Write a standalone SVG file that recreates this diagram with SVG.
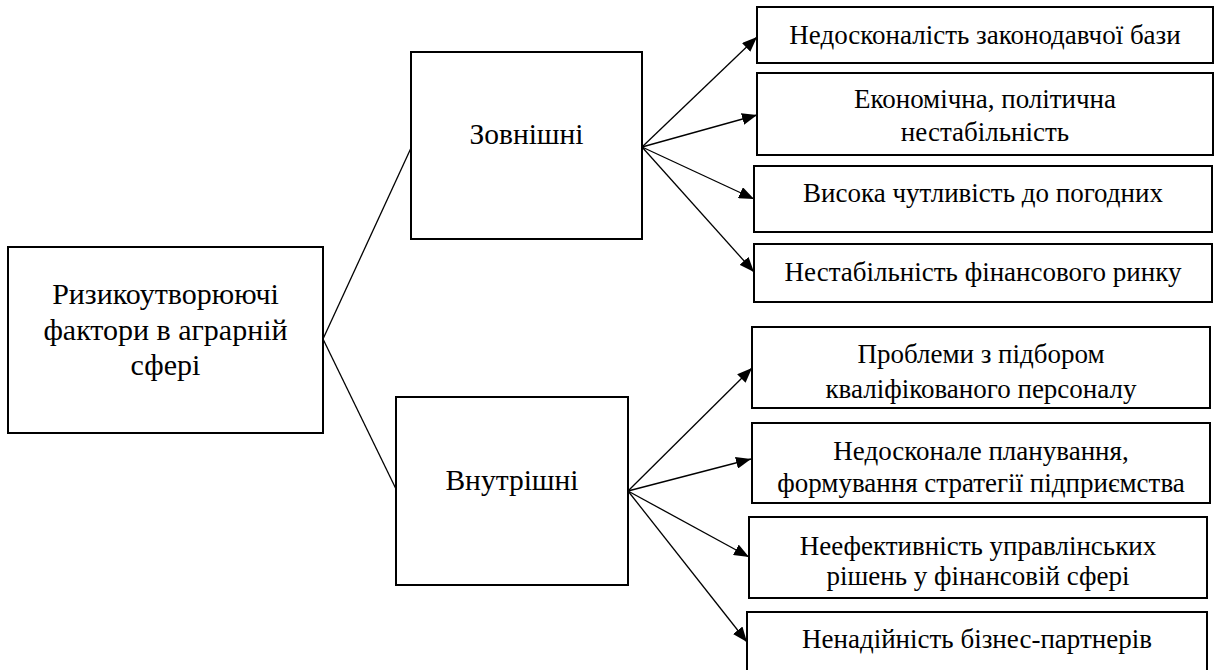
<svg xmlns="http://www.w3.org/2000/svg" width="1214" height="670" viewBox="0 0 1214 670">
<style>
.box{fill:#fff;stroke:#000;stroke-width:2}
.t{font-family:"Liberation Serif","Liberation Sans",serif;fill:#000;text-anchor:middle}
.big{font-size:30px}
.mid{font-size:29.5px}
.sm{font-size:27px}
.c{stroke:#000;stroke-width:1.3;fill:none}
</style>
<defs>
<marker id="arr" markerUnits="userSpaceOnUse" markerWidth="16" markerHeight="12" refX="15" refY="6" orient="auto">
<path d="M0,0 L15,6 L0,12 z" fill="#000"/>
</marker>
</defs>
<rect width="1214" height="670" fill="#fff"/>
<g id="connectors">
<line class="c" x1="323" y1="339" x2="411" y2="148"/>
<line class="c" x1="323" y1="339" x2="396" y2="489"/>
<line class="c" x1="642" y1="147" x2="757" y2="37" marker-end="url(#arr)"/>
<line class="c" x1="642" y1="147" x2="757" y2="115" marker-end="url(#arr)"/>
<line class="c" x1="642" y1="147" x2="754" y2="199" marker-end="url(#arr)"/>
<line class="c" x1="642" y1="147" x2="754" y2="272" marker-end="url(#arr)"/>
<line class="c" x1="628" y1="491" x2="752" y2="368" marker-end="url(#arr)"/>
<line class="c" x1="628" y1="491" x2="751" y2="459" marker-end="url(#arr)"/>
<line class="c" x1="628" y1="491" x2="749" y2="557" marker-end="url(#arr)"/>
<line class="c" x1="628" y1="491" x2="747" y2="642" marker-end="url(#arr)"/>
</g>
<g id="root">
<rect class="box" x="8" y="247" width="315" height="186"/>
<text class="t big" x="165.5" y="304">Ризикоутворюючі</text>
<text class="t big" x="165.5" y="340">фактори в аграрній</text>
<text class="t big" x="165.5" y="375">сфері</text>
</g>
<g id="external">
<rect class="box" x="411" y="52" width="231" height="187"/>
<text class="t mid" x="526.5" y="144">Зовнішні</text>
</g>
<g id="internal">
<rect class="box" x="396" y="397" width="232" height="188"/>
<text class="t mid" x="512" y="490">Внутрішні</text>
</g>
<g id="e1">
<rect class="box" x="757" y="7" width="456" height="56"/>
<text class="t sm" x="985" y="44">Недосконалість законодавчої бази</text>
</g>
<g id="e2">
<rect class="box" x="757" y="73" width="456" height="82"/>
<text class="t sm" x="985" y="108">Економічна, політична</text>
<text class="t sm" x="985" y="141">нестабільність</text>
</g>
<g id="e3">
<rect class="box" x="754" y="166" width="458" height="66"/>
<text class="t sm" x="983" y="202">Висока чутливість до погодних</text>
</g>
<g id="e4">
<rect class="box" x="754" y="244" width="458" height="58"/>
<text class="t sm" x="983" y="281">Нестабільність фінансового ринку</text>
</g>
<g id="i1">
<rect class="box" x="752" y="327" width="458" height="81"/>
<text class="t sm" x="981" y="363">Проблеми з підбором</text>
<text class="t sm" x="981" y="398">кваліфікованого персоналу</text>
</g>
<g id="i2">
<rect class="box" x="752" y="423" width="458" height="80"/>
<text class="t sm" x="981" y="460">Недосконале планування,</text>
<text class="t sm" x="981" y="492">формування стратегії підприємства</text>
</g>
<g id="i3">
<rect class="box" x="749" y="517" width="458" height="81"/>
<text class="t sm" x="978" y="555">Неефективність управлінських</text>
<text class="t sm" x="978" y="585">рішень у фінансовій сфері</text>
</g>
<g id="i4">
<rect class="box" x="747" y="612" width="460" height="64"/>
<text class="t sm" x="977" y="648">Ненадійність бізнес-партнерів</text>
</g>
</svg>
